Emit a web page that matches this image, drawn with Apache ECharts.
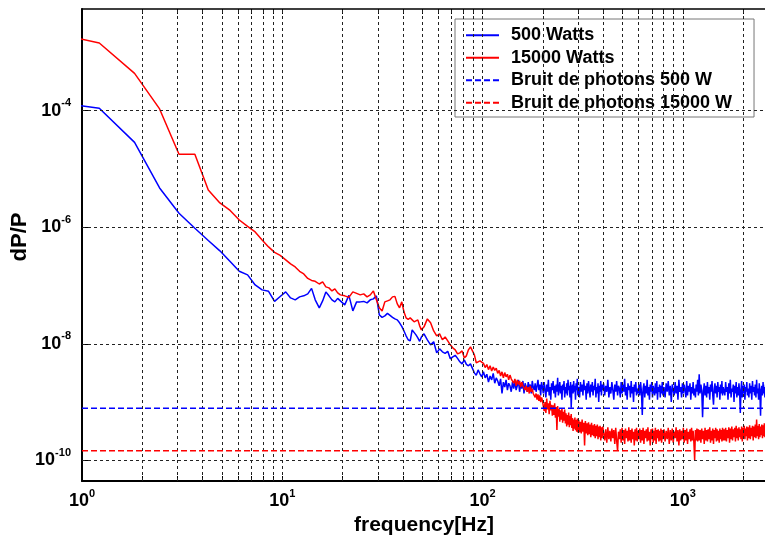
<!DOCTYPE html>
<html><head><meta charset="utf-8">
<script src="https://cdn.jsdelivr.net/npm/echarts@6/dist/echarts.min.js"></script>
<style>html,body{margin:0;padding:0;background:#fff}#c{width:765px;height:535px}</style>
</head><body><div id="c"></div>
<script>
// Frequencies (Hz)
const freq = [
0.61,1.22,1.83,2.44,3.05,3.66,4.27,4.88,5.49,6.10,6.71,7.32,7.93,8.54,9.15,9.76,
10.4,11,11.6,12.2,12.8,13.4,14,14.6,15.3,15.9,16.5,17.1,17.7,18.3,18.9,19.5,
20.5,21.5,22.5,23.5,24.5,25.5,26.5,27.5,28.5,29.5,30.5,31.5,32.5,33.5,34.5,35.5,36.5,37.5,38.5,39.5,40.5,41.5,42.5,43.5,44.5,45.5,46.5,47.5,48.5,49.5,
51,53,55,57,59,61,63,65,67,69,71,73,75,77,79,81,83,85,87,89,91,93,95,97,99,
101,103,105,107,109,111,113,115,117,119,121,123,125,127,129,131,133,135,137,139,141,143,145,147,149,151,153,155,157,159,161,163,165,167,169,171,173,175,177,179,181,183,185,187,189,191,193,195,197,199,
201,203,205,207,209,211,213,215,217,219,221,223,225,227,229,231,233,235,237,239,241,243,245,247,249,251,253,255,257,259,261,263,265,267,269,271,273,275,277,279,281,283,285,287,289,291,293,295,297,299,
302,305,308,311,314,317,320,323,326,329,332,335,338,341,344,347,350,353,356,359,362,365,368,371,374,377,380,383,386,389,392,395,398,
402,407,412,417,422,427,432,437,442,447,452,457,462,467,472,477,482,487,492,497,502,507,512,517,522,527,532,537,542,547,552,557,562,567,572,577,582,587,592,597,
603,609,615,621,627,633,639,645,651,657,663,669,675,681,687,693,699,705,711,717,723,729,735,741,747,753,759,765,771,777,783,789,795,
805,815,825,835,845,855,865,875,885,895,905,915,925,935,945,955,965,975,985,995,1005,1015,1025,1035,1045,1055,1065,1075,1085,1095,1105,1115,1125,1135,1145,1155,1165,1175,1185,1195,
1206,1218,1230,1242,1254,1266,1278,1290,1302,1314,1326,1338,1350,1362,1374,1386,1398,1410,1422,1434,1446,1458,1470,1482,1494,1506,1518,1530,1542,1554,1566,1578,1590,
1605,1620,1635,1650,1665,1680,1695,1710,1725,1740,1755,1770,1785,1800,1815,1830,1845,1860,1875,1890,1905,1920,1935,1950,1965,1980,1995,2010,2025,2040,2055,2070,2085,2100,
2118,2136,2154,2172,2190,2208,2226,2244,2262,2280,2298,2316,2334,2352,2370,2388,2406,2424,2442,2460,2478,2496,2514,2532,2550,2568,2586,2604
];
// dP/P, 500 W
const p500 = [
1.50e-4,1.10e-4,2.85e-5,4.72e-6,1.74e-6,9.57e-7,5.91e-7,3.93e-7,2.57e-7,1.75e-7,1.52e-7,1.02e-7,8.41e-8,7.93e-8,5.33e-8,6.46e-8,
7.76e-8,6.12e-8,5.67e-8,6.37e-8,6.64e-8,7.18e-8,8.91e-8,5.67e-8,4.13e-8,5.44e-8,7.76e-8,6.64e-8,5.67e-8,5.23e-8,6.01e-8,5.44e-8,
4.65e-8,6.76e-8,3.66e-8,5.23e-8,5.23e-8,5.33e-8,5.03e-8,5.67e-8,5.89e-8,6.64e-8,3.13e-8,2.84e-8,3.01e-8,3.32e-8,3.07e-8,2.84e-8,2.67e-8,2.57e-8,2.29e-8,1.99e-8,1.66e-8,1.37e-8,1.17e-8,1.12e-8,1.73e-8,1.87e-8,1.42e-8,1.26e-8,1.10e-8,1.31e-8,
1.48e-8,1.17e-8,9.58e-9,1.08e-8,6.98e-9,8.18e-9,7.26e-9,6.85e-9,7.41e-9,5.51e-9,5.96e-9,6.33e-9,5.62e-9,4.90e-9,4.52e-9,5.29e-9,4.43e-9,4.18e-9,4.52e-9,4.61e-9,3.17e-9,2.87e-9,3.56e-9,3.05e-9,2.70e-9,
3.3e-9,2.6e-9,3.0e-9,2.2e-9,2.8e-9,2.4e-9,3.1e-9,2.1e-9,2.6e-9,2.3e-9,
1.9e-9,2.5e-9,1.4e-9,2.2e-9,1.8e-9,2.4e-9,1.6e-9,2.1e-9,1.9e-9,1.5e-9,
2.2e-9,1.7e-9,2.3e-9,1.6e-9,1.9e-9,2.4e-9,1.5e-9,2.0e-9,1.7e-9,2.3e-9,
1.4e-9,2.1e-9,1.8e-9,1.5e-9,2.2e-9,1.7e-9,2.0e-9,1.4e-9,2.3e-9,1.8e-9,
1.6e-9,2.1e-9,1.5e-9,1.9e-9,2.4e-9,1.6e-9,2.0e-9,1.3e-9,2.2e-9,1.8e-9,
1.4e-9,2.2e-9,1.6e-9,1.2e-9,2.0e-9,1.5e-9,2.4e-9,1.3e-9,1.8e-9,1.1e-9,
2.1e-9,1.6e-9,2.3e-9,1.4e-9,1.9e-9,1.2e-9,2.0e-9,1.5e-9,2.6e-9,1.3e-9,
1.7e-9,2.2e-9,1.4e-9,1.9e-9,1.1e-9,2.0e-9,1.6e-9,2.3e-9,1.2e-9,1.8e-9,
1.4e-9,2.1e-9,1.3e-9,2.4e-9,1.6e-9,1.9e-9,1.2e-9,2.2e-9,0.8e-9,1.7e-9,
2.0e-9,1.4e-9,2.3e-9,1.5e-9,1.9e-9,1.1e-9,2.1e-9,1.6e-9,2.5e-9,1.3e-9,
1.8e-9,1.2e-9,2.2e-9,1.5e-9,2.0e-9,1.3e-9,2.4e-9,1.6e-9,1.9e-9,1.1e-9,
2.1e-9,1.4e-9,2.3e-9,1.7e-9,1.2e-9,2.0e-9,1.5e-9,2.2e-9,1.3e-9,1.9e-9,
1.6e-9,2.5e-9,1.2e-9,1.8e-9,1.4e-9,2.1e-9,1.0e-9,1.9e-9,1.5e-9,2.3e-9,
1.3e-9,2.0e-9,1.6e-9,
2.1e-9,1.3e-9,1.9e-9,1.5e-9,2.4e-9,1.2e-9,1.8e-9,1.4e-9,2.2e-9,1.6e-9,
1.1e-9,2.0e-9,1.5e-9,2.3e-9,1.3e-9,1.9e-9,1.7e-9,1.2e-9,2.2e-9,1.4e-9,
2.0e-9,1.5e-9,2.5e-9,1.3e-9,1.8e-9,1.1e-9,2.1e-9,1.6e-9,1.9e-9,1.2e-9,
2.3e-9,1.4e-9,1.8e-9,1.0e-9,2.0e-9,1.5e-9,2.2e-9,1.3e-9,1.7e-9,1.4e-9,
2.0e-9,1.3e-9,2.2e-9,1.5e-9,0.6e-9,1.7e-9,2.1e-9,1.2e-9,1.9e-9,1.4e-9,
2.4e-9,1.3e-9,1.8e-9,1.1e-9,2.0e-9,1.5e-9,2.2e-9,1.2e-9,1.9e-9,1.6e-9,
1.3e-9,2.1e-9,1.4e-9,2.3e-9,1.1e-9,1.8e-9,1.5e-9,2.0e-9,1.2e-9,1.9e-9,
1.4e-9,2.2e-9,1.3e-9,
1.8e-9,1.2e-9,2.1e-9,1.5e-9,2.3e-9,1.3e-9,1.9e-9,1.0e-9,2.0e-9,1.6e-9,
1.3e-9,2.2e-9,1.4e-9,1.9e-9,1.1e-9,2.4e-9,1.5e-9,1.8e-9,1.2e-9,2.1e-9,
1.4e-9,2.0e-9,1.6e-9,1.2e-9,2.3e-9,1.3e-9,1.9e-9,1.5e-9,2.1e-9,1.1e-9,
1.8e-9,1.4e-9,2.2e-9,1.3e-9,1.7e-9,1.2e-9,2.0e-9,1.5e-9,2.4e-9,1.3e-9,
3.0e-9,1.4e-9,2.0e-9,1.6e-9,0.55e-9,1.5e-9,2.1e-9,1.3e-9,1.9e-9,1.2e-9,
2.2e-9,1.4e-9,1.8e-9,1.1e-9,2.0e-9,1.5e-9,2.3e-9,1.3e-9,0.9e-9,1.7e-9,
2.1e-9,1.4e-9,1.9e-9,1.2e-9,2.2e-9,1.5e-9,1.8e-9,1.1e-9,2.0e-9,1.4e-9,
2.3e-9,1.3e-9,1.8e-9,
1.9e-9,1.3e-9,2.2e-9,1.5e-9,1.8e-9,1.1e-9,2.1e-9,1.4e-9,2.4e-9,1.2e-9,
1.7e-9,1.5e-9,2.0e-9,1.0e-9,1.9e-9,1.4e-9,2.2e-9,1.2e-9,1.8e-9,1.3e-9,
2.1e-9,1.5e-9,0.65e-9,1.6e-9,2.3e-9,1.2e-9,1.9e-9,1.4e-9,2.0e-9,1.1e-9,
1.8e-9,1.5e-9,2.2e-9,1.3e-9,
1.7e-9,1.2e-9,2.1e-9,1.4e-9,1.9e-9,1.1e-9,2.3e-9,1.5e-9,1.8e-9,1.3e-9,
2.0e-9,1.2e-9,2.4e-9,1.4e-9,1.7e-9,1.1e-9,2.1e-9,1.5e-9,0.58e-9,1.6e-9,
1.9e-9,1.3e-9,2.2e-9,1.4e-9,1.8e-9,1.2e-9,2.0e-9,1.5e-9
];
// dP/P, 15000 W
const p15000 = [
2.4e-3,1.45e-3,4.35e-4,1.07e-4,1.79e-5,1.79e-5,4.36e-6,2.61e-6,1.94e-6,1.33e-6,1.03e-6,8.3e-7,6.05e-7,4.59e-7,3.70e-7,3.28e-7,
2.75e-7,2.35e-7,2.08e-7,1.75e-7,1.58e-7,1.32e-7,1.22e-7,1.18e-7,1.06e-7,1.15e-7,9.46e-8,9.10e-8,8.07e-8,8.75e-8,7.46e-8,6.90e-8,
6.64e-8,6.25e-8,7.76e-8,7.32e-8,6.90e-8,7.18e-8,6.37e-8,6.90e-8,8.07e-8,5.67e-8,4.13e-8,3.66e-8,5.23e-8,5.44e-8,5.67e-8,6.37e-8,6.50e-8,4.83e-8,4.13e-8,5.23e-8,3.53e-8,2.78e-8,2.62e-8,2.78e-8,2.67e-8,2.38e-8,2.29e-8,2.57e-8,2.03e-8,1.73e-8,
1.95e-8,2.67e-8,2.29e-8,1.66e-8,1.37e-8,1.48e-8,1.17e-8,1.31e-8,1.12e-8,9.58e-9,8.51e-9,7.86e-9,6.71e-9,6.98e-9,7.55e-9,5.73e-9,6.20e-9,7.86e-9,8.86e-9,7.55e-9,6.45e-9,4.70e-9,4.52e-9,5.09e-9,4.90e-9,
4.6e-9,3.9e-9,4.4e-9,3.6e-9,4.2e-9,3.4e-9,4.0e-9,3.5e-9,3.8e-9,3.1e-9,
3.5e-9,2.8e-9,3.3e-9,2.6e-9,3.2e-9,2.7e-9,3.0e-9,2.4e-9,2.9e-9,2.5e-9,
2.6e-9,2.1e-9,2.5e-9,1.9e-9,2.4e-9,2.0e-9,2.3e-9,1.8e-9,2.2e-9,1.9e-9,
2.0e-9,1.6e-9,1.9e-9,1.5e-9,1.8e-9,1.4e-9,1.9e-9,1.5e-9,1.7e-9,1.4e-9,
1.5e-9,1.2e-9,1.4e-9,1.1e-9,1.35e-9,1.05e-9,1.3e-9,1.0e-9,1.2e-9,1.05e-9,
1.1e-9,7.0e-10,1.0e-9,6.5e-10,1.15e-9,7.5e-10,9.5e-10,6.2e-10,1.05e-9,7.2e-10,
9.0e-10,5.8e-10,8.8e-10,6.0e-10,9.5e-10,5.4e-10,8.2e-10,3.3e-10,8.5e-10,5.6e-10,
7.6e-10,4.6e-10,7.2e-10,5.0e-10,7.8e-10,4.4e-10,6.8e-10,4.8e-10,7.4e-10,4.3e-10,
6.4e-10,3.8e-10,6.0e-10,4.1e-10,6.6e-10,3.7e-10,5.8e-10,4.0e-10,6.2e-10,3.6e-10,
5.3e-10,3.2e-10,5.0e-10,3.5e-10,5.4e-10,3.3e-10,4.9e-10,3.1e-10,5.2e-10,3.0e-10,
4.9e-10,3.0e-10,4.6e-10,2.9e-10,5.0e-10,3.1e-10,4.4e-10,1.8e-10,4.7e-10,2.9e-10,
4.3e-10,2.7e-10,4.5e-10,2.8e-10,4.1e-10,2.5e-10,4.4e-10,2.7e-10,4.0e-10,2.6e-10,
4.2e-10,2.4e-10,3.9e-10,2.6e-10,4.1e-10,2.3e-10,3.8e-10,2.5e-10,3.9e-10,2.2e-10,
3.7e-10,2.4e-10,3.8e-10,
3.6e-10,2.2e-10,3.4e-10,2.0e-10,3.7e-10,2.3e-10,3.2e-10,2.1e-10,3.5e-10,2.4e-10,
3.3e-10,1.9e-10,3.6e-10,2.2e-10,1.45e-10,3.1e-10,2.3e-10,3.4e-10,2.0e-10,3.6e-10,
2.2e-10,3.3e-10,1.9e-10,3.5e-10,2.4e-10,3.2e-10,2.1e-10,3.7e-10,2.2e-10,3.3e-10,
2.0e-10,3.5e-10,2.3e-10,3.1e-10,1.8e-10,3.4e-10,2.2e-10,3.6e-10,2.1e-10,3.2e-10,
2.3e-10,3.5e-10,2.0e-10,3.3e-10,2.2e-10,3.6e-10,1.9e-10,3.2e-10,2.4e-10,3.4e-10,
2.1e-10,3.7e-10,2.2e-10,3.1e-10,1.8e-10,3.4e-10,2.3e-10,3.5e-10,2.0e-10,3.2e-10,
2.2e-10,3.6e-10,1.9e-10,3.3e-10,2.4e-10,3.4e-10,2.1e-10,3.2e-10,2.2e-10,3.5e-10,
2.0e-10,3.3e-10,2.3e-10,
3.4e-10,2.1e-10,3.2e-10,2.3e-10,3.6e-10,1.9e-10,3.3e-10,2.2e-10,3.5e-10,2.0e-10,
3.1e-10,2.4e-10,3.7e-10,2.1e-10,3.3e-10,1.8e-10,3.4e-10,2.2e-10,3.2e-10,2.3e-10,
3.6e-10,2.0e-10,3.3e-10,2.2e-10,3.5e-10,1.9e-10,3.1e-10,2.3e-10,3.4e-10,2.1e-10,
3.6e-10,2.2e-10,3.2e-10,2.0e-10,1.0e-10,3.3e-10,2.2e-10,3.5e-10,2.1e-10,3.4e-10,
2.2e-10,3.3e-10,2.0e-10,3.5e-10,2.3e-10,3.2e-10,1.9e-10,3.6e-10,2.2e-10,3.3e-10,
2.1e-10,3.4e-10,2.3e-10,3.7e-10,2.0e-10,3.2e-10,2.2e-10,3.5e-10,1.9e-10,3.3e-10,
2.4e-10,3.6e-10,2.1e-10,3.4e-10,2.2e-10,3.2e-10,2.0e-10,3.5e-10,2.3e-10,3.3e-10,
2.1e-10,3.6e-10,2.2e-10,
3.4e-10,2.2e-10,3.6e-10,2.1e-10,3.3e-10,2.4e-10,3.7e-10,2.0e-10,3.5e-10,2.3e-10,
3.8e-10,2.2e-10,3.4e-10,2.5e-10,3.6e-10,2.1e-10,3.9e-10,2.4e-10,3.5e-10,2.2e-10,
3.7e-10,2.5e-10,3.4e-10,2.3e-10,3.8e-10,2.1e-10,3.6e-10,2.4e-10,3.9e-10,2.3e-10,
3.5e-10,2.6e-10,3.8e-10,2.2e-10,
3.7e-10,2.4e-10,4.0e-10,2.3e-10,3.6e-10,2.6e-10,3.9e-10,2.2e-10,3.8e-10,2.5e-10,
4.1e-10,2.4e-10,5.0e-10,2.6e-10,3.9e-10,2.3e-10,4.2e-10,2.5e-10,3.8e-10,2.7e-10,
4.1e-10,2.4e-10,4.0e-10,2.6e-10,4.3e-10,2.5e-10,3.9e-10,2.8e-10
];
// Photon noise levels
const photon500 = 7.85e-10;
const photon15000 = 1.46e-10;

const seriesNames = ['500 Watts', '15000 Watts', 'Bruit de photons 500 W', 'Bruit de photons 15000 W'];
const xMin = 1, xMax = 2600;
const yMin = Math.pow(10, -10.355), yMax = Math.pow(10, -2.256);
const xGridValues = [1,2,3,4,5,6,7,8,9,10,20,30,40,50,60,70,80,90,100,200,300,400,500,600,700,800,900,1000,2000];
const xLabelValues = [1, 10, 100, 1000];
const yLabelValues = [1e-10, 1e-8, 1e-6, 1e-4];

const FONT = '"Liberation Sans", Arial, Helvetica, sans-serif';
const expFormatter = v => '{b|10}{s|' + Math.round(Math.log10(v)) + '}';
const richLabel = {
  b: { fontSize: 18, fontWeight: 'bold', fontFamily: FONT, color: '#000', lineHeight: 26 },
  s: { fontSize: 11, fontWeight: 'bold', fontFamily: FONT, color: '#000', lineHeight: 10, verticalAlign: 'top' }
};
const gridStyle = { color: '#222', width: 1, type: [3, 3] };

const gridLines = xGridValues.slice(1).map(v => [{ xAxis: v, yAxis: yMin }, { xAxis: v, yAxis: yMax }])
  .concat(yLabelValues.map(v => [{ xAxis: xMin, yAxis: v }, { xAxis: xMax, yAxis: v }]));

const chart = echarts.init(document.getElementById('c'), null, { renderer: 'canvas' });
chart.setOption({
  animation: false,
  backgroundColor: '#fff',
  grid: { left: 82, top: 9, right: -1, bottom: 54, outerBoundsMode: 'none', containLabel: false },
  legend: {
    data: seriesNames,
    orient: 'vertical',
    left: 455, top: 19,
    itemWidth: 33, itemHeight: 14, itemGap: 2,
    padding: [6, 22, 4, 10],
    backgroundColor: '#fff',
    borderColor: '#777', borderWidth: 1,
    itemStyle: { opacity: 0 },
    textStyle: { fontSize: 18, fontWeight: 'bold', color: '#000', fontFamily: FONT, lineHeight: 20.5, padding: [0, 0, 0, 7] }
  },
  xAxis: [{
    type: 'log', logBase: 10, min: xMin, max: xMax, position: 'bottom',
    name: 'frequency[Hz]', nameLocation: 'middle', nameGap: 31,
    nameTextStyle: { fontSize: 21, fontWeight: 'bold', color: '#000', fontFamily: FONT },
    axisLine: { show: true, lineStyle: { color: '#000', width: 2 } },
    axisTick: { show: true, inside: true, length: 5, customValues: xGridValues, lineStyle: { color: '#000', width: 1 } },
    axisLabel: { customValues: xLabelValues, formatter: expFormatter, rich: richLabel, margin: 7 },
    splitLine: { show: false }
  }, {
    type: 'log', logBase: 10, min: xMin, max: xMax, position: 'top',
    axisLine: { show: true, lineStyle: { color: '#000', width: 1.5 } },
    axisTick: { show: true, inside: true, length: 5, customValues: xGridValues, lineStyle: { color: '#000', width: 1 } },
    axisLabel: { show: false },
    splitLine: { show: false }
  }],
  yAxis: {
    type: 'log', logBase: 10, min: yMin, max: yMax,
    name: 'dP/P', nameLocation: 'middle', nameGap: 51, nameMoveOverlap: false,
    nameTextStyle: { fontSize: 22, fontWeight: 'bold', color: '#000', fontFamily: FONT, padding: [0, 0, 0, 16] },
    axisLine: { show: true, lineStyle: { color: '#000', width: 2 } },
    axisTick: { show: true, inside: true, length: 6, customValues: yLabelValues, lineStyle: { color: '#000', width: 1 } },
    axisLabel: { customValues: yLabelValues, formatter: expFormatter, rich: richLabel, margin: 11 },
    splitLine: { show: false }
  },
  series: [
    {
      name: '__grid', type: 'line', data: [], silent: true, z: 1,
      markLine: {
        silent: true, symbol: ['none', 'none'], label: { show: false },
        lineStyle: gridStyle, animation: false,
        data: gridLines
      }
    },
    {
      name: seriesNames[0], type: 'line', z: 3,
      data: freq.map((f, i) => [f, p500[i]]),
      symbol: 'none', showSymbol: false,
      lineStyle: { color: '#0000ff', width: 1.5 }, itemStyle: { color: '#0000ff' }
    },
    {
      name: seriesNames[1], type: 'line', z: 4,
      data: freq.map((f, i) => [f, p15000[i]]),
      symbol: 'none', showSymbol: false,
      lineStyle: { color: '#ff0000', width: 1.5 }, itemStyle: { color: '#ff0000' }
    },
    {
      name: seriesNames[2], type: 'line', z: 5,
      data: [[xMin, photon500], [xMax, photon500]],
      symbol: 'none', showSymbol: false,
      lineStyle: { color: '#0000ff', width: 1.5, type: [6, 3] }, itemStyle: { color: '#0000ff' }
    },
    {
      name: seriesNames[3], type: 'line', z: 5,
      data: [[xMin, photon15000], [xMax, photon15000]],
      symbol: 'none', showSymbol: false,
      lineStyle: { color: '#ff0000', width: 1.5, type: [6, 3] }, itemStyle: { color: '#ff0000' }
    }
  ]
});
</script>
</body></html>
